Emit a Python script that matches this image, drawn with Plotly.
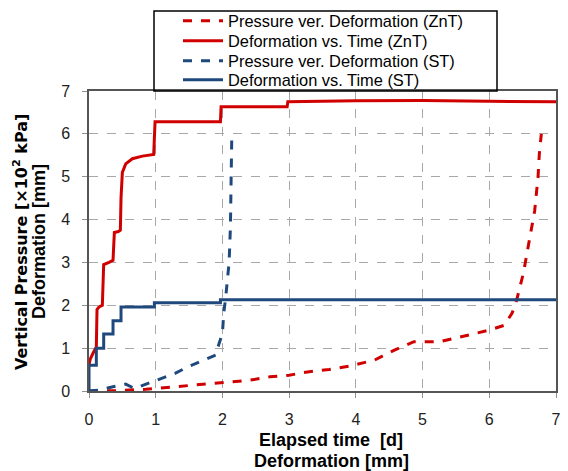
import plotly.graph_objects as go

# Deformation vs. Time (ZnT) - red solid
znt_def_t = [0, 0.02, 0.06, 0.1, 0.11, 0.12, 0.15, 0.2, 0.22, 0.3, 0.36, 0.38, 0.44, 0.47, 0.48, 0.5, 0.55, 0.65, 0.8, 0.97, 0.99, 1.97, 1.98, 2.97, 2.98, 4.0, 5.0, 6.0, 7.0]
znt_def_y = [0.62, 0.75, 0.88, 1.0, 1.03, 1.9, 1.96, 2.0, 2.95, 3.0, 3.05, 3.7, 3.72, 3.75, 4.5, 5.1, 5.3, 5.42, 5.48, 5.52, 6.28, 6.28, 6.63, 6.63, 6.75, 6.77, 6.78, 6.76, 6.75]

# Pressure ver. Deformation (ZnT) - red dashed
znt_pr_x = [0, 0.4, 0.85, 1.3, 1.83, 2.12, 2.4, 2.71, 3.0, 3.3, 3.6, 3.9, 4.28, 4.57, 4.87, 5.26, 5.65, 6.0, 6.22, 6.34, 6.41, 6.51, 6.61, 6.68, 6.73, 6.75, 6.78]
znt_pr_y = [0, 0.01, 0.04, 0.1, 0.16, 0.2, 0.25, 0.33, 0.37, 0.45, 0.5, 0.58, 0.72, 0.95, 1.15, 1.15, 1.3, 1.42, 1.53, 1.81, 2.12, 2.74, 3.6, 4.2, 4.98, 5.53, 6.0]

# Deformation vs. Time (ST) - blue solid
st_def_t = [0, 0, 0.11, 0.11, 0.22, 0.22, 0.36, 0.36, 0.48, 0.48, 0.98, 0.98, 1.97, 1.97, 7.0]
st_def_y = [0, 0.6, 0.6, 1.0, 1.0, 1.33, 1.33, 1.64, 1.64, 1.96, 1.96, 2.06, 2.06, 2.13, 2.13]

# Pressure ver. Deformation (ST) - blue dashed
st_pr_x = [0, 0.16, 0.36, 0.55, 0.68, 0.85, 1.04, 1.29, 1.49, 1.73, 1.90, 1.95, 2.0, 2.02, 2.05, 2.1, 2.12, 2.13, 2.14]
st_pr_y = [0, 0.02, 0.1, 0.16, 0.06, 0.16, 0.26, 0.41, 0.57, 0.72, 0.84, 1.11, 1.34, 1.82, 2.2, 3.0, 3.83, 4.92, 5.93]

x_ticks = [0, 1, 2, 3, 4, 5, 6, 7]
y_ticks = [0, 1, 2, 3, 4, 5, 6, 7]

RED = "#D00000"
BLUE = "#1F497D"
FONT = "Arial, Liberation Sans"
WIDE = "DejaVu Sans"

# page offset of the figure inside the browser window (body margin)
OX, OY = 8, 8
W, H = 568, 471
# target plot area in window pixels: x 89..556, y 91..391
ML = 89 - OX
MR = W - (556 - OX)
MT = 91 - OY
MB = H - (391 - OY)
PW, PH = W - ML - MR, H - MT - MB


def px_x(p):
    return (p - OX - ML) / PW


def px_y(p):
    return (H - MB - (p - OY)) / PH


fig = go.Figure()
fig.add_trace(go.Scatter(x=znt_pr_x, y=znt_pr_y, mode="lines", name="Pressure ver. Deformation (ZnT)",
                         line=dict(color=RED, width=3, dash="dash"), legend="legend"))
fig.add_trace(go.Scatter(x=znt_def_t, y=znt_def_y, mode="lines", name="Deformation vs. Time (ZnT)",
                         line=dict(color=RED, width=3), legend="legend2"))
fig.add_trace(go.Scatter(x=st_pr_x, y=st_pr_y, mode="lines", name="Pressure ver. Deformation (ST)",
                         line=dict(color=BLUE, width=3, dash="dash"), legend="legend3"))
fig.add_trace(go.Scatter(x=st_def_t, y=st_def_y, mode="lines", name="Deformation vs. Time (ST)",
                         line=dict(color=BLUE, width=3), legend="legend4"))

axis_common = dict(
    showgrid=True, gridcolor="#A8A8A8", griddash="dash", gridwidth=1,
    showline=True, linecolor="#555555", linewidth=1.5, mirror=True,
    ticks="outside", ticklen=5, tickcolor="#909090",
    tickfont=dict(family=FONT, size=16, color="#222"),
    zeroline=False,
)


def leg(center_y):
    return dict(
        x=px_x(178), y=px_y(center_y), xanchor="left", yanchor="middle",
        bgcolor="rgba(0,0,0,0)", borderwidth=0,
        font=dict(family=FONT, size=16.4, color="black"),
        itemwidth=40,
    )


fig.update_layout(
    width=W, height=H, autosize=False,
    margin=dict(l=ML, r=MR, t=MT, b=MB, autoexpand=False),
    paper_bgcolor="white", plot_bgcolor="white",
    font=dict(family=FONT, color="black"),
    xaxis=dict(range=[0, 7], tickvals=x_ticks, ticklabelstandoff=8, **axis_common),
    yaxis=dict(range=[0, 7], tickvals=y_ticks, ticklabelstandoff=9, **axis_common),
    showlegend=True,
    legend=leg(21), legend2=leg(41), legend3=leg(61), legend4=leg(80),
)

# legend frame
fig.add_shape(type="rect", xref="paper", yref="paper",
              x0=px_x(154), x1=px_x(497), y0=px_y(91), y1=px_y(11),
              line=dict(color="black", width=1.5), fillcolor="rgba(0,0,0,0)", layer="above")

fig.add_annotation(
    text="<b>Vertical Pressure [×10<sup>2</sup> kPa]</b>",
    x=px_x(20), y=px_y(242), xref="paper", yref="paper", xanchor="center", yanchor="middle",
    textangle=-90, showarrow=False,
    font=dict(family=WIDE, size=16, color="black"),
)
fig.add_annotation(
    text="<b>Deformation [mm]</b>",
    x=px_x(39), y=px_y(242), xref="paper", yref="paper", xanchor="center", yanchor="middle",
    textangle=-90, showarrow=False,
    font=dict(family=FONT, size=18, color="black"),
)
fig.add_annotation(
    text="<b>Elapsed time\u00a0 [d]</b>",
    x=px_x(331), y=px_y(440), xref="paper", yref="paper", xanchor="center", yanchor="middle",
    showarrow=False,
    font=dict(family=FONT, size=18, color="black"),
)
fig.add_annotation(
    text="<b>Deformation [mm]</b>",
    x=px_x(331), y=px_y(461), xref="paper", yref="paper", xanchor="center", yanchor="middle",
    showarrow=False,
    font=dict(family=FONT, size=18, color="black"),
)

fig.write_html("out.html")
